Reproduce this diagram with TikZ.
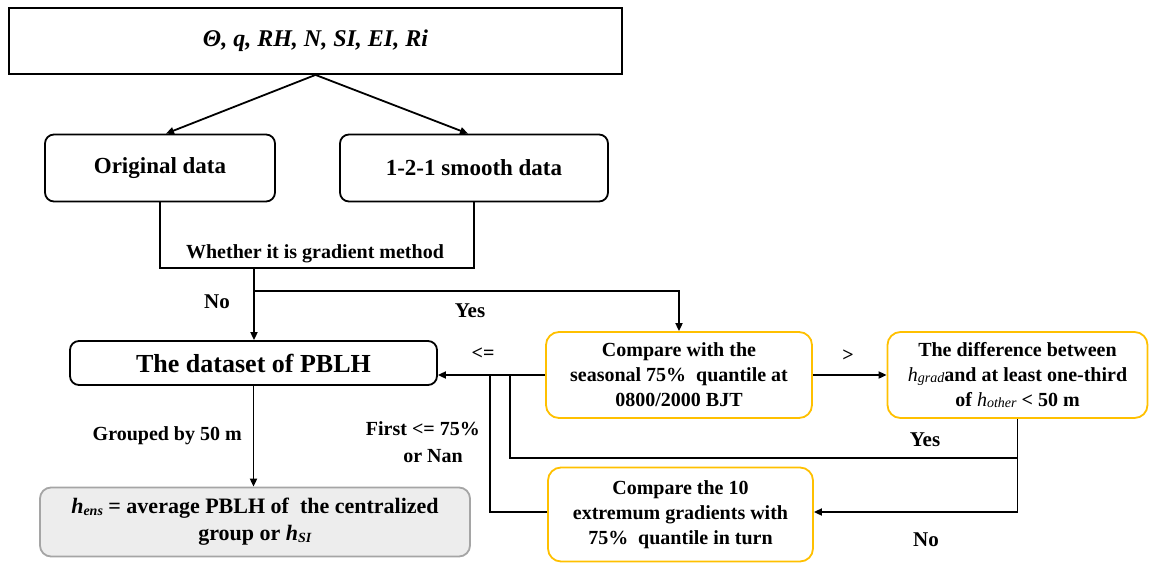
\documentclass[tikz,border=0pt]{standalone}
\usepackage{fontspec}
\setmainfont{Liberation Serif}
\usetikzlibrary{arrows.meta,calc}

\definecolor{amber}{HTML}{FFC000}
\definecolor{boxgray}{HTML}{EDEDED}
\definecolor{edgegray}{HTML}{A5A5A5}

% italic height symbol with a smaller italic suffix
\newcommand{\hvar}[1]{\textit{h}\raisebox{-1.5pt}{\fontsize{14}{14}\selectfont\textit{#1}}}

\begin{document}
\begin{tikzpicture}[x=1pt,y=-1pt,
  base/.style={draw, line width=1.8pt, inner sep=0pt, align=center,
               font=\bfseries\fontsize{20}{25}\selectfont},
  plainbox/.style={base, rectangle},
  roundbox/.style={base, rounded corners=9pt, font=\bfseries\fontsize{23}{27}\selectfont},
  amberbox/.style={base, draw=amber, rounded corners=13pt},
  graybox/.style={base, draw=edgegray, fill=boxgray, rounded corners=11pt,
                  font=\bfseries\fontsize{22}{27}\selectfont},
  link/.style={line width=1.8pt},
  arr/.style={link, -{Triangle[length=8pt,width=7pt]}},
  lbl/.style={font=\bfseries\fontsize{20}{24}\selectfont, inner sep=0pt},
]
\useasboundingbox (0,0) rectangle (1149,563);

% boxes
\node[plainbox, minimum width=613pt, minimum height=66pt,
      font=\bfseries\itshape\fontsize{24}{28}\selectfont]
  (top) at (315.5,41) {Θ, q, RH, N, SI, EI, Ri};
\node[roundbox, minimum width=230pt, minimum height=67pt] (orig) at (160,168) {Original data};
\node[roundbox, minimum width=268pt, minimum height=67pt] (smooth) at (474,168) {1-2-1 smooth data};
\node[roundbox, minimum width=367pt, minimum height=44pt,
      font=\bfseries\fontsize{26}{30}\selectfont] (pblh) at (253.5,363) {The dataset of PBLH};
\node[graybox, minimum width=430pt, minimum height=69pt] (hens) at (255,522)
  {\hvar{ens} = average PBLH of\ \ the centralized\\ group or \hvar{SI}};
\node[amberbox, minimum width=266pt, minimum height=86pt] (cmp1) at (679,375)
  {Compare with the\\ seasonal 75\%\ \ quantile at\\ 0800/2000 BJT};
\node[amberbox, minimum width=260pt, minimum height=86pt] (diff) at (1017.5,375)
  {The difference between\\ {\mdseries\hvar{grad}}and at least one-third\\ of {\mdseries\hvar{other}} < 50 m};
\node[amberbox, minimum width=265pt, minimum height=94pt] (cmp2) at (680.5,514.5)
  {Compare the 10\\ extremum gradients with\\ 75\%\ \ quantile in turn};

% junction points
\coordinate (split) at (254,268);
\coordinate (fork) at (254,291);
\coordinate (yesrun) at (510,458);
\coordinate (firstrun) at (490,458);

% connectors
\draw[arr] (top.south) -- ([xshift=6pt]orig.north);
\draw[arr] (top.south) -- ([xshift=-6pt]smooth.north);
\draw[link] (orig.south) |- (split) -| (smooth.south);
\draw[arr] (split) -- (split |- pblh.north);
\draw[arr] (fork) -| (cmp1.north);
\draw[arr] (pblh.south) -- (pblh.south |- hens.north);
\draw[arr] (cmp1.west) -- (cmp1.west -| pblh.east);
\draw[arr] (cmp1.east) -- (diff.west);
\draw[link] (diff.south) |- (yesrun) -- (yesrun |- cmp1.west);
\draw[arr] (diff.south) |- ([yshift=2.5pt]cmp2.east);
\draw[link] ([yshift=2.5pt]cmp2.west) -| (firstrun |- cmp1.west);

% labels
\node[lbl] (lgrad) at (315,254) {Whether it is gradient method};
\node[lbl, font=\bfseries\fontsize{21}{24}\selectfont] (lno1) at (217,302) {No};
\node[lbl, font=\bfseries\fontsize{21}{24}\selectfont] (lyes1) at (470,311) {Yes};
\node[lbl, anchor=east] (lgroup) at (242,436) {Grouped by 50 m};
\node[lbl] (lle) at (483,354) {<=};
\node[lbl] (lgt) at (848,356) {>};
\node[lbl, anchor=east] (lfirst) at (480,429) {First <= 75\%};
\node[lbl, anchor=east] (lnan) at (463,456) {or Nan};
\node[lbl, font=\bfseries\fontsize{21}{24}\selectfont] (lyes2) at (925,440) {Yes};
\node[lbl, font=\bfseries\fontsize{21}{24}\selectfont] (lno2) at (926,540) {No};
\end{tikzpicture}
\end{document}
